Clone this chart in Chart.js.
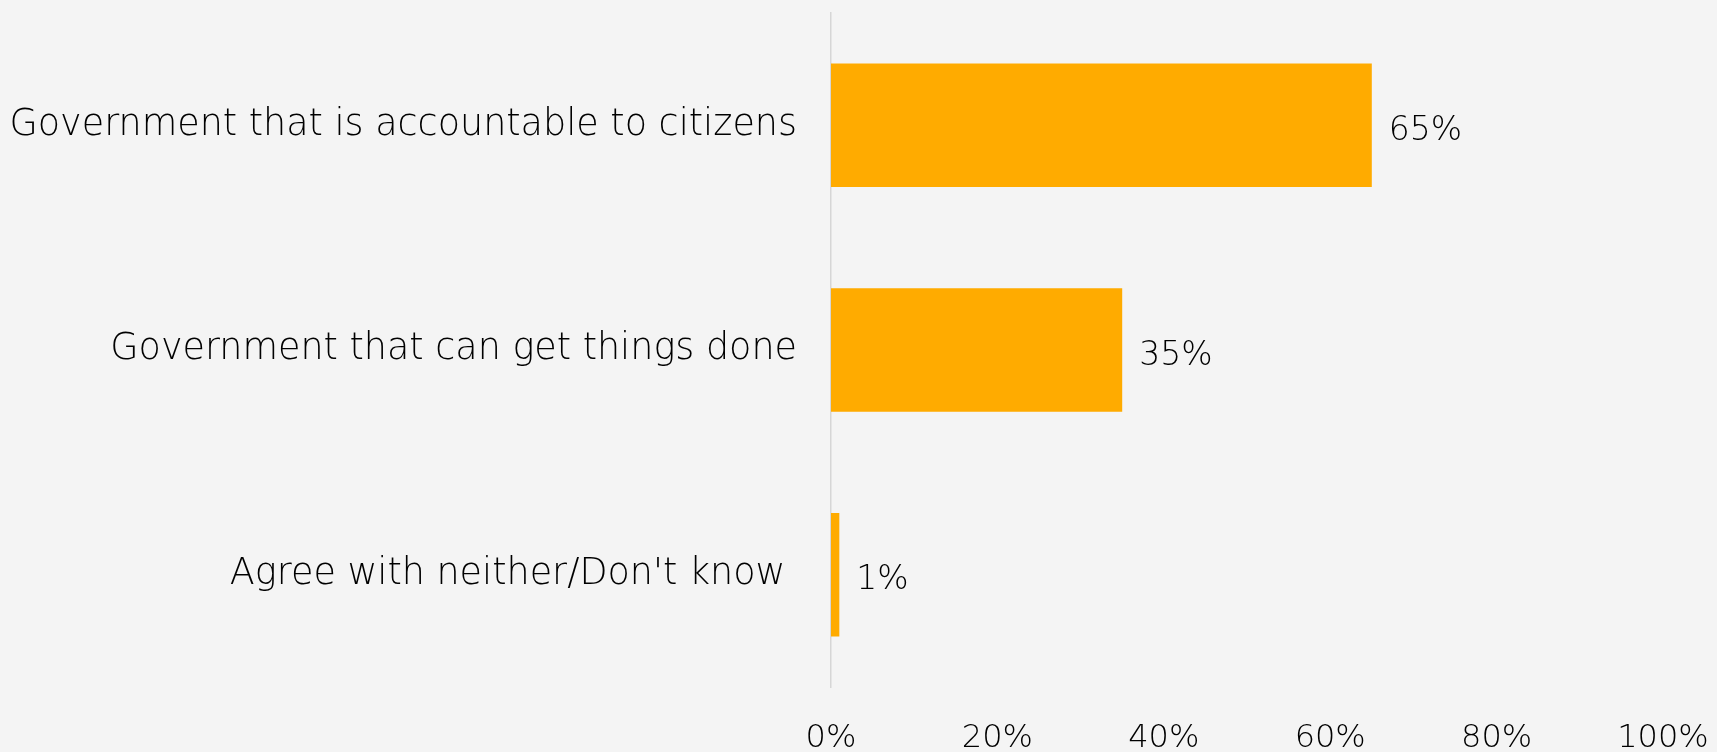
<!DOCTYPE html>
<html>
<head>
<meta charset="utf-8">
<script src="https://cdn.jsdelivr.net/npm/chart.js@4/dist/chart.umd.min.js"></script>
<style>
    html, body { margin: 0; padding: 0; background: #f4f4f4; }
    #wrap { width: 1717px; height: 752px; position: relative; }
</style>
</head>
<body>
<div id="wrap"><canvas id="chart"></canvas></div>
<script>
const categories = [
    'Government that is accountable to citizens',
    'Government that can get things done',
    'Agree with neither/Don\'t know '
];
const shares = [65, 35, 1];
const xTicks = [0, 20, 40, 60, 80, 100];

const FONT = '"DejaVu Sans", sans-serif';

// draw "65%" etc. next to each bar
const valueLabels = {
    id: 'valueLabels',
    afterDatasetsDraw(chart) {
        const ctx = chart.ctx;
        const meta = chart.getDatasetMeta(0);
        ctx.save();
        ctx.font = '200 33px ' + FONT;
        ctx.fillStyle = '#000';
        ctx.textBaseline = 'middle';
        ctx.textAlign = 'left';
        meta.data.forEach((bar, i) => {
            ctx.fillText(shares[i] + '%', bar.x + 17, bar.y + 6);
        });
        ctx.restore();
    }
};

new Chart(document.getElementById('chart').getContext('2d'), {
    type: 'bar',
    data: {
        labels: categories,
        datasets: [{
            data: shares,
            backgroundColor: '#ffab00',
            barPercentage: 0.55,
            categoryPercentage: 1
        }]
    },
    options: {
        indexAxis: 'y',
        responsive: true,
        maintainAspectRatio: false,
        animation: false,
        layout: { padding: { top: 13, right: 54, left: 0, bottom: 0 } },
        plugins: {
            legend: { display: false },
            tooltip: { enabled: false }
        },
        scales: {
            x: {
                min: 0,
                max: 100,
                afterBuildTicks(axis) {
                    axis.ticks = xTicks.map(v => ({ value: v }));
                },
                afterFit(axis) {
                    axis.height = 65;
                    axis.paddingLeft = 0;
                    axis.paddingRight = 0;
                },
                grid: { display: false },
                border: { display: false },
                ticks: {
                    padding: 24,
                    color: '#000',
                    font: { family: FONT, size: 32, weight: 200 },
                    callback: v => v + '%'
                }
            },
            y: {
                afterFit(axis) {
                    axis.width = 831;
                    axis.paddingTop = 0;
                    axis.paddingBottom = 0;
                },
                grid: { display: false },
                border: { display: true, color: '#d6d6d6', width: 1.5 },
                ticks: {
                    padding: 26,
                    color: '#000',
                    font: { family: FONT, size: 36.5, weight: 200 }
                }
            }
        }
    },
    plugins: [valueLabels]
});
</script>
</body>
</html>
